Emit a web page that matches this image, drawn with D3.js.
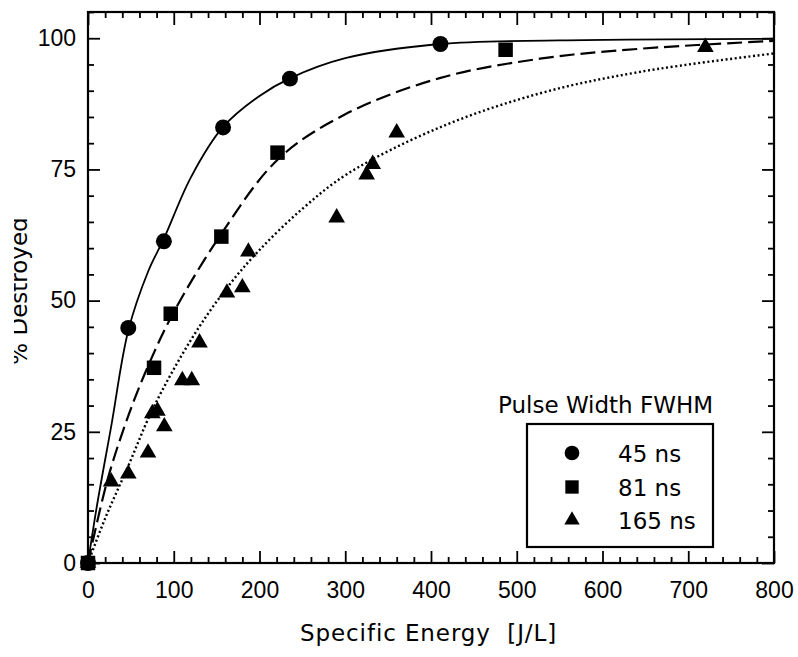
<!DOCTYPE html>
<html>
<head>
<meta charset="utf-8">
<script src="https://cdn.jsdelivr.net/npm/d3@7"></script>
<style>
  html, body { margin: 0; padding: 0; background: #fff; }
  svg { display: block; }
  .tick-label { font-family: "Liberation Sans", Arial, sans-serif; font-size: 23px; fill: #000; }
  .title { font-family: "DejaVu Sans", sans-serif; font-size: 23px; fill: #000; }
</style>
</head>
<body>
<svg id="chart" width="798" height="657"></svg>
<script>
// Axis ticks
const energyTicks = [0, 100, 200, 300, 400, 500, 600, 700, 800];
const pctTicks = [0, 25, 50, 75, 100];

// Measured points: specific energy [J/L] and % destroyed, per pulse width
const energy45 = [0, 47, 88.5, 157.5, 235.5, 411];
const pct45    = [0, 44.8, 61.3, 83.0, 92.3, 98.9];

const energy81 = [0, 77, 96.5, 155.5, 221, 487];
const pct81    = [0, 37.2, 47.5, 62.2, 78.2, 97.8];

const energy165 = [0, 27, 47, 70, 75, 81, 89, 110, 121, 130, 162, 180, 187, 290, 325, 332, 360, 720];
const pct165    = [0, 15.5, 17, 21, 28.5, 29, 26, 34.8, 34.8, 42, 51.5, 52.5, 59.3, 65.8, 74, 76, 82, 98.3];

// Fitted curves through the data (sampled along each line)
const fitEnergy45 = [0, 10, 27, 47, 70, 89, 120, 157, 200, 236, 300, 410, 550, 800];
const fitPct45    = [0, 10.5, 26, 44.3, 55.5, 62, 73.5, 83, 89, 92.4, 96.2, 98.9, 99.6, 99.9];

const fitEnergy81 = [0, 23, 48, 70, 99, 155, 222, 300, 410, 527, 644, 800];
const fitPct81    = [0, 16, 28.5, 37.5, 47.5, 62.6, 77, 85.5, 92.4, 96.1, 98, 99.5];

const fitEnergy165 = [0, 20, 47, 76, 120, 160, 198, 250, 303, 410, 527, 644, 800];
const fitPct165    = [0, 8.5, 18.5, 29.5, 42.5, 52, 59.3, 67.5, 74.2, 83, 89.5, 93.6, 97.1];

const legendLabels = ["45 ns", "81 ns", "165 ns"];

const svg = d3.select("#chart");
const margin = { left: 88, right: 24, top: 12, bottom: 94 };
const W = 798, H = 657;
const x = d3.scaleLinear().domain([0, 800]).range([margin.left, W - margin.right]);
const y = d3.scaleLinear().domain([0, 105]).range([H - margin.bottom, margin.top]);
const x0 = x.range()[0], x1 = x.range()[1], y0 = y.range()[0], y1 = y.range()[1];

// Minor ticks (every 20 J/L and every 5 %) on all four sides, pointing inward
const minorE = d3.range(0, 801, 20).filter(v => v % 100 !== 0);
const minorP = d3.range(0, 106, 5).filter(v => v % 25 !== 0);
function tickStyle(g) {
  g.select(".domain").remove();
  g.selectAll(".tick line").attr("stroke", "#000").attr("stroke-width", 1.8);
}
svg.append("g").attr("transform", `translate(0,${y0})`)
  .call(d3.axisBottom(x).tickValues(minorE).tickSize(-6).tickFormat("")).call(tickStyle);
svg.append("g").attr("transform", `translate(0,${y1})`)
  .call(d3.axisTop(x).tickValues(minorE).tickSize(-6).tickFormat("")).call(tickStyle);
svg.append("g").attr("transform", `translate(${x0},0)`)
  .call(d3.axisLeft(y).tickValues(minorP).tickSize(-6).tickFormat("")).call(tickStyle);
svg.append("g").attr("transform", `translate(${x1},0)`)
  .call(d3.axisRight(y).tickValues(minorP).tickSize(-6).tickFormat("")).call(tickStyle);

// Major ticks
const xb = svg.append("g").attr("transform", `translate(0,${y0})`)
  .call(d3.axisBottom(x).tickValues(energyTicks).tickSize(-12).tickPadding(19).tickFormat(d3.format("d")))
  .call(tickStyle);
xb.selectAll(".tick text").attr("class", "tick-label");
svg.append("g").attr("transform", `translate(0,${y1})`)
  .call(d3.axisTop(x).tickValues(energyTicks).tickSize(-13).tickFormat("")).call(tickStyle);
const yl = svg.append("g").attr("transform", `translate(${x0},0)`)
  .call(d3.axisLeft(y).tickValues(pctTicks).tickSize(-12).tickPadding(12).tickFormat(d3.format("d")))
  .call(tickStyle);
yl.selectAll(".tick text").attr("class", "tick-label");
svg.append("g").attr("transform", `translate(${x1},0)`)
  .call(d3.axisRight(y).tickValues(pctTicks).tickSize(-12).tickFormat("")).call(tickStyle);
d3.selectAll("g").attr("font-size", null).attr("font-family", null);

// Plot frame
svg.append("rect")
  .attr("x", x0).attr("y", y1).attr("width", x1 - x0).attr("height", y0 - y1)
  .attr("fill", "none").attr("stroke", "#000").attr("stroke-width", 2.2);

// Fit curves
const line = d3.line().x(d => x(d[0])).y(d => y(d[1])).curve(d3.curveCatmullRom.alpha(0.5));
const curves = [
  { e: fitEnergy45, p: fitPct45, dash: null, w: 1.8 },
  { e: fitEnergy81, p: fitPct81, dash: "15,6", w: 2.2 },
  { e: fitEnergy165, p: fitPct165, dash: "2,2.6", w: 2.4 }
];
curves.forEach(c => {
  svg.append("path")
    .attr("d", line(d3.zip(c.e, c.p)))
    .attr("fill", "none").attr("stroke", "#000")
    .attr("stroke-width", c.w)
    .attr("stroke-dasharray", c.dash);
});

// Data markers
const series = [
  { e: energy45, p: pct45, sym: d3.symbolCircle, size: 200 },
  { e: energy81, p: pct81, sym: d3.symbolSquare, size: 210 },
  { e: energy165, p: pct165, sym: d3.symbolTriangle, size: 120 }
];
series.forEach(s => {
  svg.append("g").selectAll("path")
    .data(d3.zip(s.e, s.p))
    .join("path")
    .attr("transform", d => `translate(${x(d[0])},${y(d[1])})`)
    .attr("d", d3.symbol().type(s.sym).size(s.size))
    .attr("fill", "#000");
});

// Axis titles
svg.append("text").attr("class", "title")
  .attr("x", 300).attr("y", 641)
  .attr("letter-spacing", "0.9px")
  .attr("xml:space", "preserve")
  .text("Specific Energy  [J/L]");

svg.append("clipPath").attr("id", "leftEdge")
  .append("rect").attr("x", 14).attr("y", 0).attr("width", 60).attr("height", H);
svg.append("g").attr("clip-path", "url(#leftEdge)")
  .append("text").attr("class", "title")
  .attr("transform", "translate(27,291) rotate(-90)")
  .attr("text-anchor", "middle")
  .text("% Destroyed");

// Legend
const legend = svg.append("g");
legend.append("text").attr("class", "title")
  .attr("x", 498).attr("y", 413)
  .text("Pulse Width FWHM");
legend.append("rect")
  .attr("x", 527).attr("y", 424).attr("width", 186).attr("height", 123)
  .attr("fill", "#fff").attr("stroke", "#000").attr("stroke-width", 2.2);
const rowY = [453, 487, 520];
series.forEach((s, i) => {
  legend.append("path")
    .attr("transform", `translate(572,${rowY[i]})`)
    .attr("d", d3.symbol().type(s.sym).size(s.size * 0.85))
    .attr("fill", "#000");
  legend.append("text").attr("class", "title")
    .attr("x", 618).attr("y", rowY[i] + 9)
    .text(legendLabels[i]);
});
</script>
</body>
</html>
